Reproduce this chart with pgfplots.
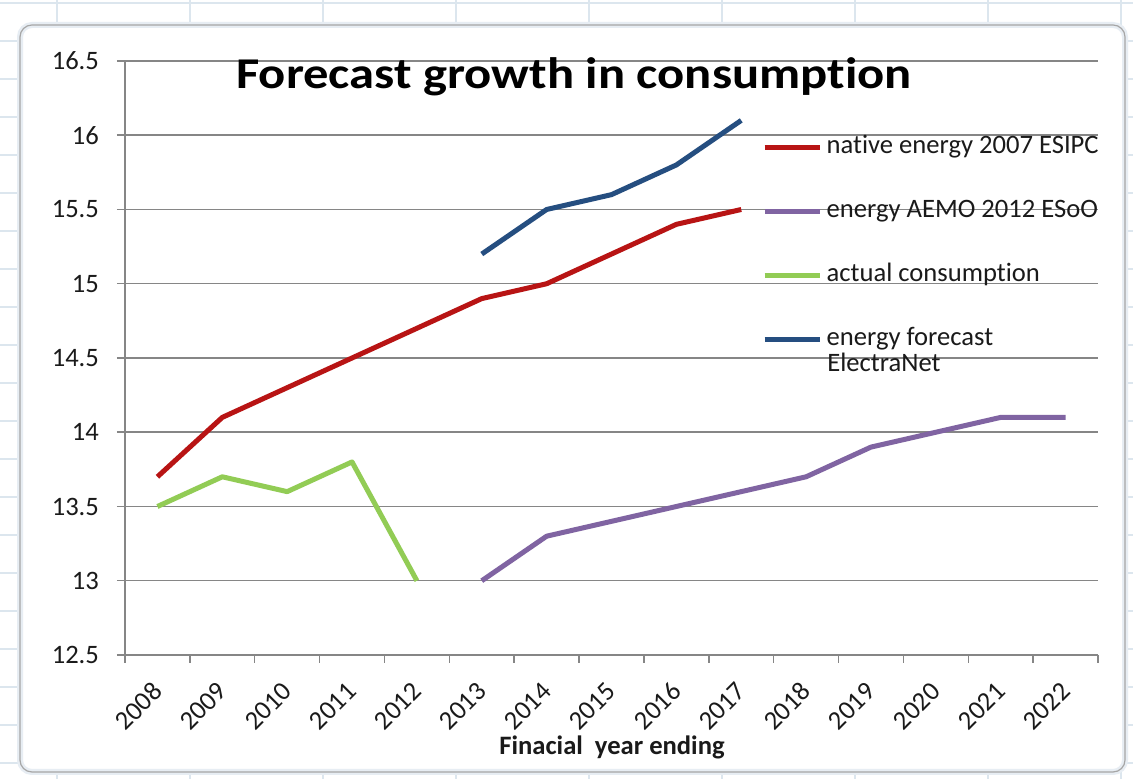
\documentclass[border=0pt]{standalone}
\usepackage{fontspec}
\setmainfont{Carlito}[Ligatures=NoCommon]
\newfontfamily\titlefont[FakeStretch=1.15,Ligatures=NoCommon]{Carlito}
\usepackage{pgfplots}
\pgfplotsset{compat=1.18}
\definecolor{cred}{HTML}{B81414}
\definecolor{cpurple}{HTML}{8064A2}
\definecolor{cgreen}{HTML}{92CC55}
\definecolor{cblue}{HTML}{254E80}
\definecolor{cgrid}{HTML}{868686}
\definecolor{ctext}{HTML}{1A1A1A}
\definecolor{csheet}{HTML}{DCE6EE}
\begin{document}
\begin{tikzpicture}[x=1pt,y=1pt]
\path[use as bounding box] (0,0) rectangle (566.5,389.5);
\fill[white] (0,0) rectangle (566.5,389.5);
% sheet grid in the margins
\foreach \xx in {28.5,95,161.5,228,294.5,361,427.5,494,560.5} {\draw[csheet,line width=0.6pt] (\xx,0) -- (\xx,389.5);}
\foreach \yy in {8,27,46,65,84,103,122,141,160,179,198,217,236,255,274,293,312,331,350,369,388} {\draw[csheet,line width=0.6pt] (0,\yy) -- (566.5,\yy);}
\draw[csheet!70!white, line width=3pt, rounded corners=6pt, fill=white] (10,3.5) rectangle (562.5,377);
\draw[gray!70, line width=0.6pt, rounded corners=6pt] (10,3.5) rectangle (562.5,377);
\begin{axis}[
  at={(62.5pt,62pt)}, anchor=south west,
  width=486.5pt, height=297pt, scale only axis,
  xmin=-0.5, xmax=14.5, ymin=12.5, ymax=16.5,
  axis x line*=bottom, axis y line*=left,
  axis line style={cgrid, line width=0.75pt, -},
  xtick={0,...,14},
  xticklabels={2008,2009,2010,2011,2012,2013,2014,2015,2016,2017,2018,2019,2020,2021,2022},
  minor xtick={-0.5,0.5,...,14.5},
  ytick={12.5,13,...,16.5},
  yticklabel style={/pgf/number format/fixed, /pgf/number format/precision=1},
  /pgf/number format/assume math mode=true,
  ymajorgrids, major grid style={cgrid, line width=0.75pt},
  tick align=outside, tick pos=left,
  major x tick style={draw=none},
  major y tick style={cgrid, line width=0.75pt},
  minor x tick style={cgrid, line width=0.75pt},
  major tick length=4pt, minor tick length=4pt,
  ticklabel style={font=\fontsize{13.3}{15}\selectfont, text=ctext},
  yticklabel style={xshift=-5.5pt},
  xticklabel style={rotate=45, anchor=east, xshift=-5pt, yshift=-8.5pt},
  legend style={draw=none, fill=none, at={(0.6545,0.8745)}, anchor=north west,
    inner sep=0pt, row sep=20pt, font=\fontsize{13.3}{15}\selectfont,
    nodes={inner sep=0pt, text height=9pt, text depth=3pt, text=ctext}},
  legend cell align=left,
  legend image code/.code={\draw[#1, line width=2.5pt] (0pt,0pt) -- (27.5pt,0pt);},
  every axis plot/.append style={line width=2.5pt, line join=round},
  clip=false,
]
\addplot[cred] coordinates {(0,13.7) (1,14.1) (2,14.3) (3,14.5) (4,14.7) (5,14.9) (6,15.0) (7,15.2) (8,15.4) (9,15.5)};
\addlegendentry{\,native energy 2007 ESIPC}
\addplot[cpurple] coordinates {(5,13.0) (6,13.3) (7,13.4) (8,13.5) (9,13.6) (10,13.7) (11,13.9) (12,14.0) (13,14.1) (14,14.1)};
\addlegendentry{\,energy AEMO 2012 ESoO}
\addplot[cgreen] coordinates {(0,13.5) (1,13.7) (2,13.6) (3,13.8) (4,13.0)};
\addlegendentry{\,actual consumption}
\addplot[cblue] coordinates {(5,15.2) (6,15.5) (7,15.6) (8,15.8) (9,16.1)};
\addlegendentry{\,energy forecast}
\end{axis}
\node[anchor=base west, font=\fontsize{13.3}{15}\selectfont, text=ctext, inner sep=0pt] at (413.5,203.5) {ElectraNet};
\node[anchor=base, font=\titlefont\bfseries\fontsize{22}{26}\selectfont, inner sep=0pt] at (287,345) {Forecast growth in consumption};
\node[anchor=base, font=\bfseries\fontsize{13.3}{15}\selectfont, text=ctext, inner sep=0pt] at (306,12) {Finacial\ \ year ending};
\end{tikzpicture}
\end{document}
